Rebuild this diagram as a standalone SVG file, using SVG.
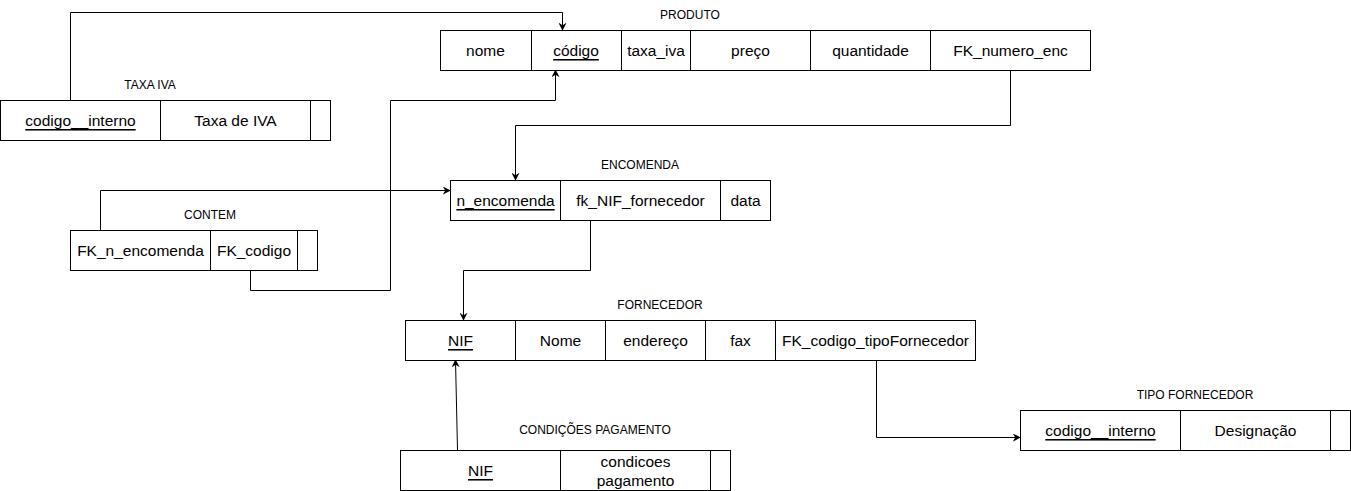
<svg xmlns="http://www.w3.org/2000/svg" width="1351" height="491" viewBox="0 0 1351 491">
<defs>
<marker id="arr" viewBox="0 0 10 10" refX="9" refY="5" markerWidth="8" markerHeight="8" markerUnits="userSpaceOnUse" orient="auto"><path d="M0,0 L10,5 L0,10 L3,5 Z" fill="#000"/></marker>
<style>
.c{fill:#fff;stroke:#000;stroke-width:1}
.t{font-family:"Liberation Sans",Arial,sans-serif;font-size:15.5px;fill:#000;text-anchor:middle;dominant-baseline:central}
.k{text-decoration:underline}
.l{font-family:"Liberation Sans",Arial,sans-serif;font-size:12px;fill:#000;text-anchor:middle;dominant-baseline:central}
.e{fill:none;stroke:#000;stroke-width:1;marker-end:url(#arr)}
</style>
</defs>
<rect width="1351" height="491" fill="#fff"/>
<g id="connectors">
<polyline class="e" points="70.5,100 70.5,12.5 562.5,12.5 562.5,30"/>
<polyline class="e" points="250.5,270 250.5,290.5 390.5,290.5 390.5,100.5 555.5,100.5 555.5,70"/>
<polyline class="e" points="100.5,230 100.5,190.5 450,190.5"/>
<polyline class="e" points="1010.5,70 1010.5,125.5 515.5,125.5 515.5,180"/>
<polyline class="e" points="590.5,220 590.5,270.5 463.5,270.5 463.5,320"/>
<polyline class="e" points="457.5,450 455.5,360"/>
<polyline class="e" points="876.5,360 876.5,437.5 1020,437.5"/>
</g>
<g id="produto">
<text class="l" x="690" y="15">PRODUTO</text>
<rect class="c" x="440.5" y="30.5" width="91" height="40"/>
<rect class="c" x="531.5" y="30.5" width="90" height="40"/>
<rect class="c" x="621.5" y="30.5" width="69" height="40"/>
<rect class="c" x="690.5" y="30.5" width="120" height="40"/>
<rect class="c" x="810.5" y="30.5" width="120" height="40"/>
<rect class="c" x="930.5" y="30.5" width="160" height="40"/>
<text class="t" x="485.5" y="50.5">nome</text>
<text class="t k" x="576" y="50.5">código</text>
<text class="t" x="656" y="50.5">taxa_iva</text>
<text class="t" x="750.5" y="50.5">preço</text>
<text class="t" x="870.5" y="50.5">quantidade</text>
<text class="t" x="1010.5" y="50.5">FK_numero_enc</text>
</g>
<g id="taxa-iva">
<text class="l" x="150" y="85">TAXA IVA</text>
<rect class="c" x="0.5" y="100.5" width="160" height="40"/>
<rect class="c" x="160.5" y="100.5" width="150" height="40"/>
<rect class="c" x="310.5" y="100.5" width="20" height="40"/>
<text class="t k" x="80.5" y="120.5">codigo__interno</text>
<text class="t" x="235.5" y="120.5">Taxa de IVA</text>
</g>
<g id="contem">
<text class="l" x="210" y="215">CONTEM</text>
<rect class="c" x="70.5" y="230.5" width="140" height="40"/>
<rect class="c" x="210.5" y="230.5" width="87" height="40"/>
<rect class="c" x="297.5" y="230.5" width="20" height="40"/>
<text class="t" x="140.5" y="250.5">FK_n_encomenda</text>
<text class="t" x="254" y="250.5">FK_codigo</text>
</g>
<g id="encomenda">
<text class="l" x="640" y="165">ENCOMENDA</text>
<rect class="c" x="450.5" y="180.5" width="110" height="40"/>
<rect class="c" x="560.5" y="180.5" width="160" height="40"/>
<rect class="c" x="720.5" y="180.5" width="50" height="40"/>
<text class="t k" x="505.5" y="200.5">n_encomenda</text>
<text class="t" x="640.5" y="200.5">fk_NIF_fornecedor</text>
<text class="t" x="745.5" y="200.5">data</text>
</g>
<g id="fornecedor">
<text class="l" x="660" y="305">FORNECEDOR</text>
<rect class="c" x="405.5" y="320.5" width="110" height="40"/>
<rect class="c" x="515.5" y="320.5" width="90" height="40"/>
<rect class="c" x="605.5" y="320.5" width="100" height="40"/>
<rect class="c" x="705.5" y="320.5" width="70" height="40"/>
<rect class="c" x="775.5" y="320.5" width="200" height="40"/>
<text class="t k" x="460.5" y="340.5">NIF</text>
<text class="t" x="560.5" y="340.5">Nome</text>
<text class="t" x="655.5" y="340.5">endereço</text>
<text class="t" x="740.5" y="340.5">fax</text>
<text class="t" x="875.5" y="340.5">FK_codigo_tipoFornecedor</text>
</g>
<g id="condicoes-pagamento">
<text class="l" x="595" y="430">CONDIÇÕES PAGAMENTO</text>
<rect class="c" x="400.5" y="450.5" width="160" height="40"/>
<rect class="c" x="560.5" y="450.5" width="150" height="40"/>
<rect class="c" x="710.5" y="450.5" width="20" height="40"/>
<text class="t k" x="480.5" y="470.5">NIF</text>
<text class="t" x="635.5" y="461.5">condicoes</text>
<text class="t" x="635.5" y="480.5">pagamento</text>
</g>
<g id="tipo-fornecedor">
<text class="l" x="1195" y="395">TIPO FORNECEDOR</text>
<rect class="c" x="1020.5" y="410.5" width="160" height="40"/>
<rect class="c" x="1180.5" y="410.5" width="150" height="40"/>
<rect class="c" x="1330.5" y="410.5" width="20" height="40"/>
<text class="t k" x="1100.5" y="430.5">codigo__interno</text>
<text class="t" x="1255.5" y="430.5">Designação</text>
</g>
</svg>
